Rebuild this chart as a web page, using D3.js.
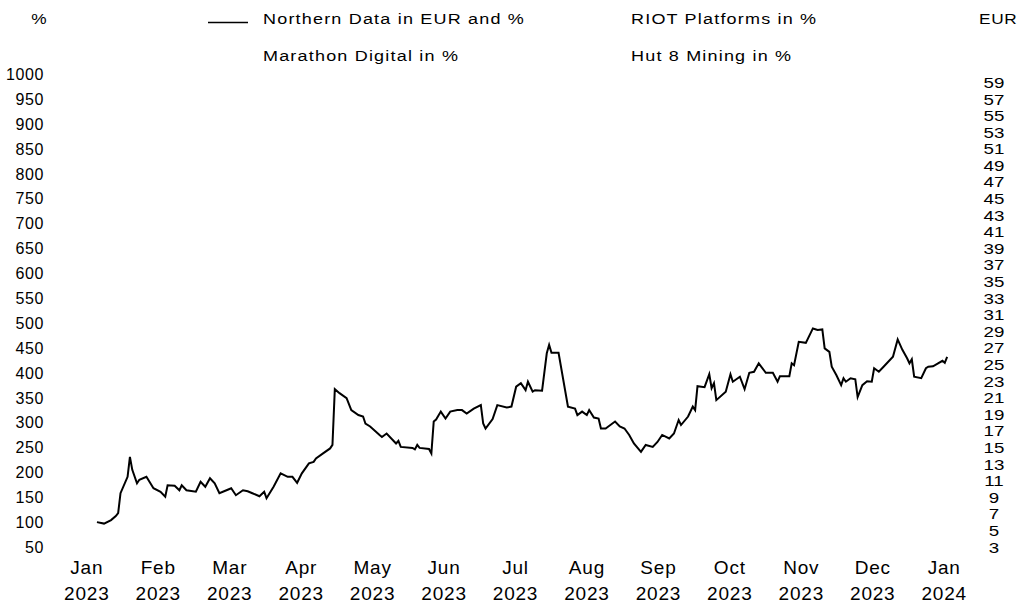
<!DOCTYPE html>
<html>
<head>
<meta charset="utf-8">
<script src="https://cdn.jsdelivr.net/npm/d3@7"></script>
<style>
  body { margin: 0; background: #fff; }
  svg { font-family: "Liberation Sans", Arial, sans-serif; }
</style>
</head>
<body>
<div id="chart"></div>
<script>
// Northern Data share price, indexed in % (100 = start of 2023)
var dates = [
  "2023-01-02","2023-01-05","2023-01-08","2023-01-10","2023-01-11","2023-01-12","2023-01-15","2023-01-16","2023-01-17","2023-01-19","2023-01-20","2023-01-23","2023-01-26","2023-01-29","2023-01-31",
  "2023-02-01","2023-02-04","2023-02-06","2023-02-07","2023-02-09","2023-02-13","2023-02-15","2023-02-17","2023-02-19","2023-02-21","2023-02-23","2023-02-26","2023-02-28",
  "2023-03-02","2023-03-05","2023-03-07","2023-03-09","2023-03-12","2023-03-14","2023-03-15","2023-03-18","2023-03-21","2023-03-24","2023-03-26","2023-03-28","2023-03-30",
  "2023-04-02","2023-04-04","2023-04-05","2023-04-08","2023-04-11","2023-04-12","2023-04-13","2023-04-15","2023-04-18","2023-04-20","2023-04-23","2023-04-25","2023-04-26","2023-04-28",
  "2023-05-02","2023-05-03","2023-05-05","2023-05-09","2023-05-10","2023-05-11","2023-05-16","2023-05-17","2023-05-18","2023-05-19","2023-05-23","2023-05-24","2023-05-25","2023-05-26","2023-05-28","2023-05-30",
  "2023-06-01","2023-06-04","2023-06-06","2023-06-08","2023-06-11","2023-06-14","2023-06-15","2023-06-16","2023-06-19","2023-06-21","2023-06-25","2023-06-27","2023-06-29",
  "2023-07-01","2023-07-03","2023-07-04","2023-07-06","2023-07-07","2023-07-10","2023-07-12","2023-07-13","2023-07-14","2023-07-17","2023-07-21","2023-07-24","2023-07-25","2023-07-27","2023-07-29","2023-07-30",
  "2023-08-01","2023-08-03","2023-08-04","2023-08-06","2023-08-08","2023-08-10","2023-08-12","2023-08-14","2023-08-16","2023-08-18","2023-08-21","2023-08-23","2023-08-26","2023-08-28","2023-08-30",
  "2023-09-02","2023-09-04","2023-09-06","2023-09-07","2023-09-10","2023-09-12","2023-09-13","2023-09-14","2023-09-17","2023-09-19","2023-09-20","2023-09-21","2023-09-22","2023-09-26","2023-09-28","2023-09-29",
  "2023-10-02","2023-10-04","2023-10-06","2023-10-08","2023-10-10","2023-10-13","2023-10-16","2023-10-18","2023-10-19","2023-10-23","2023-10-24","2023-10-25","2023-10-27","2023-10-30",
  "2023-11-02","2023-11-04","2023-11-06","2023-11-07","2023-11-09","2023-11-10","2023-11-12","2023-11-14","2023-11-15","2023-11-16","2023-11-18","2023-11-20","2023-11-21","2023-11-23","2023-11-25","2023-11-27","2023-11-28","2023-11-30",
  "2023-12-02","2023-12-06","2023-12-08","2023-12-10","2023-12-12","2023-12-13","2023-12-14","2023-12-15","2023-12-18","2023-12-20","2023-12-21","2023-12-23","2023-12-27","2023-12-28","2023-12-29"
]
var northernData = [
  100, 97, 104, 112, 118, 158, 191, 231, 205, 178, 185, 191, 168, 161, 151,
  174, 173, 164, 174, 164, 161, 181, 171, 188, 178, 158, 164, 168,
  154, 164, 162, 158, 152, 161, 148, 171, 198, 191, 191, 179, 198,
  218, 221, 228, 238, 248, 255, 367, 359, 349, 325, 315, 312, 298, 292,
  275, 271, 278, 258, 263, 251, 249, 246, 255, 249, 247, 238, 302, 306, 322, 308,
  322, 325, 325, 318, 328, 335, 298, 288, 307, 335, 330, 332, 372,
  379, 365, 382, 362, 365, 364, 439, 456, 440, 440, 332, 328, 315, 322, 315, 325,
  310, 308, 288, 288, 295, 302, 292, 288, 275, 258, 241, 255, 251, 261, 275,
  268, 278, 305, 295, 312, 332, 325, 373, 371, 397, 369, 379, 345, 362, 397, 382,
  392, 367, 400, 402, 419, 400, 400, 382, 393, 393, 419, 415, 462, 460,
  489, 486, 487, 449, 442, 412, 395, 375, 389, 382, 389, 387, 351, 375, 383, 382, 409, 402,
  412, 432, 467, 446, 429, 419, 427, 392, 389, 409, 412, 413, 424, 420, 432
]

var monthLabels = ["Jan","Feb","Mar","Apr","May","Jun","Jul","Aug","Sep","Oct","Nov","Dec","Jan"]
var yearLabels = ["2023","2023","2023","2023","2023","2023","2023","2023","2023","2023","2023","2023","2024"]
var percentTicks = d3.range(50, 1001, 50)
var eurTicks = d3.range(3, 60, 2)
var eurPerPercent = 0.06   // 100 % = 6 EUR

var legendItems = [
  { label: "Northern Data in EUR and %", color: "#000", col: 0, row: 0 },
  { label: "RIOT Platforms in %", color: "#fff", col: 1, row: 0 },
  { label: "Marathon Digital in %", color: "#fff", col: 0, row: 1 },
  { label: "Hut 8 Mining in %", color: "#fff", col: 1, row: 1 }
]

var width = 1021,
    height = 603

var svg = d3.select("#chart").append("svg")
  .attr("width", width)
  .attr("height", height)

var parse = d3.timeParse("%Y-%m-%d")
var series = dates.map(function (d, i) { return { date: parse(d), value: northernData[i] } })

var x = d3.scaleTime()
  .domain([new Date(2023, 0, 1), new Date(2024, 0, 1)])
  .range([94.6, 954.2])
var xLabel = d3.scalePoint()
  .domain(d3.range(monthLabels.length))
  .range([86.3, 943.7])
var y = d3.scaleLinear().domain([50, 1000]).range([547, 74])
var yEur = d3.scaleLinear()
  .domain([50 * eurPerPercent, 1000 * eurPerPercent])
  .range([547, 74])

// Left axis (%)
var leftAxis = svg.append("g")
  .attr("transform", "translate(44,0)")
  .call(d3.axisLeft(y).tickValues(percentTicks).tickSize(0).tickPadding(0).tickFormat(d3.format("d")))
leftAxis.select(".domain").remove()
leftAxis.selectAll("text")
  .attr("font-size", 16)
  .attr("letter-spacing", 0.6)
  .attr("fill", "#000")
  .attr("dy", "0.34em")

// Right axis (EUR)
var rightAxis = svg.append("g")
  .attr("transform", "translate(994,0)")
  .call(d3.axisRight(yEur).tickValues(eurTicks).tickSize(0).tickPadding(0))
rightAxis.select(".domain").remove()
rightAxis.selectAll("text")
  .attr("font-size", 15)
  .attr("text-anchor", "middle")
  .attr("fill", "#000")
  .attr("dy", "0.34em")
  .attr("transform", "scale(1.25,1)")

// Bottom axis, two-line month labels
var bottomAxis = svg.append("g")
  .attr("transform", "translate(0,574)")
  .call(d3.axisBottom(xLabel).tickSize(0).tickPadding(0).tickFormat(function (i) { return monthLabels[i] }))
bottomAxis.select(".domain").remove()
bottomAxis.selectAll("text")
  .attr("font-size", 19)
  .attr("letter-spacing", 0.8)
  .attr("fill", "#000")
  .attr("y", 0)
  .attr("dy", 0)
  .each(function (i) {
    var t = d3.select(this)
    t.text(null)
    t.append("tspan").attr("x", 0).attr("dy", 0).text(monthLabels[i])
    t.append("tspan").attr("x", 0).attr("dy", 26.4).text(yearLabels[i])
  })

// Axis titles
svg.append("text")
  .attr("x", 39).attr("y", 24)
  .attr("text-anchor", "middle")
  .attr("font-size", 15)
  .attr("transform", "translate(39,0) scale(1.15,1) translate(-39,0)")
  .text("%")
svg.append("text")
  .attr("transform", "translate(979,24) scale(1.15,1)")
  .attr("font-size", 15)
  .attr("letter-spacing", 0.6)
  .text("EUR")

// Legend
var legend = svg.append("g")
legendItems.forEach(function (item) {
  var lx = 208 + item.col * 368,
      ly = 24 + item.row * 37
  legend.append("line")
    .attr("x1", lx).attr("x2", lx + 40)
    .attr("y1", ly - 1.5).attr("y2", ly - 1.5)
    .attr("stroke", item.color)
    .attr("stroke-width", 1.5)
  legend.append("text")
    .attr("transform", "translate(" + (lx + 55) + "," + ly + ") scale(1.2,1)")
    .attr("font-size", 15)
    .attr("letter-spacing", 1)
    .attr("fill", "#000")
    .text(item.label)
})

// Northern Data line
var line = d3.line()
  .x(function (d) { return x(d.date) })
  .y(function (d) { return y(d.value) })

svg.append("path")
  .datum(series)
  .attr("fill", "none")
  .attr("stroke", "#000")
  .attr("stroke-width", 2)
  .attr("stroke-linejoin", "miter")
  .attr("d", line)
</script>
</body>
</html>
